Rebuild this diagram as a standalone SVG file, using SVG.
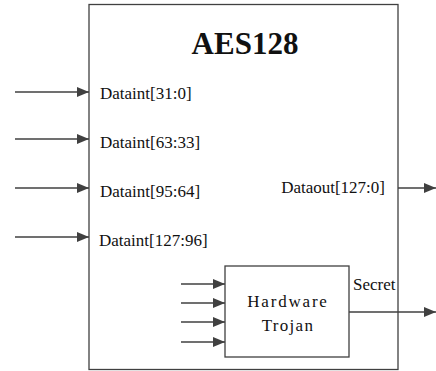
<svg xmlns="http://www.w3.org/2000/svg" width="436" height="371" viewBox="0 0 436 371">
<style>
.box{fill:#fff;stroke:#404040;stroke-width:1.3}
.wire{stroke:#404040;stroke-width:1.5;fill:none}
.t{font-family:"Liberation Serif","Times New Roman",serif;font-size:17px;fill:#111}
.title{font-family:"Liberation Serif","Times New Roman",serif;font-size:31px;font-weight:bold;fill:#111}
</style>
<defs>
<marker id="ah" markerWidth="12" markerHeight="10" refX="12" refY="5" orient="auto" markerUnits="userSpaceOnUse">
<path d="M0,0 L12,5 L0,10 Z" fill="#404040"/>
</marker>
</defs>
<rect width="436" height="371" fill="#fff"/>
<g id="aes128">
<rect class="box" x="89" y="4.5" width="309" height="365"/>
<text class="title" x="245" y="54" text-anchor="middle">AES128</text>
<text class="t" x="100" y="99">Dataint[31:0]</text>
<text class="t" x="100" y="148">Dataint[63:33]</text>
<text class="t" x="100" y="197">Dataint[95:64]</text>
<text class="t" x="99" y="246">Dataint[127:96]</text>
<text class="t" x="385" y="193" text-anchor="end">Dataout[127:0]</text>
</g>
<g id="trojan">
<rect class="box" x="225" y="266" width="124" height="91"/>
<text class="t" x="288" y="307" text-anchor="middle" letter-spacing="1.8">Hardware</text>
<text class="t" x="288" y="331" text-anchor="middle" letter-spacing="1.3">Trojan</text>
<text class="t" x="353" y="290">Secret</text>
</g>
<g id="connectors">
<line class="wire" x1="15" y1="92" x2="89" y2="92" marker-end="url(#ah)"/>
<line class="wire" x1="15" y1="139" x2="89" y2="139" marker-end="url(#ah)"/>
<line class="wire" x1="15" y1="188" x2="89" y2="188" marker-end="url(#ah)"/>
<line class="wire" x1="15" y1="237" x2="89" y2="237" marker-end="url(#ah)"/>
<line class="wire" x1="398" y1="188" x2="436" y2="188" marker-end="url(#ah)"/>
<line class="wire" x1="181" y1="284" x2="225" y2="284" marker-end="url(#ah)"/>
<line class="wire" x1="181" y1="303" x2="225" y2="303" marker-end="url(#ah)"/>
<line class="wire" x1="181" y1="322" x2="225" y2="322" marker-end="url(#ah)"/>
<line class="wire" x1="181" y1="342" x2="225" y2="342" marker-end="url(#ah)"/>
<line class="wire" x1="349" y1="312" x2="436" y2="312" marker-end="url(#ah)"/>
</g>
</svg>
